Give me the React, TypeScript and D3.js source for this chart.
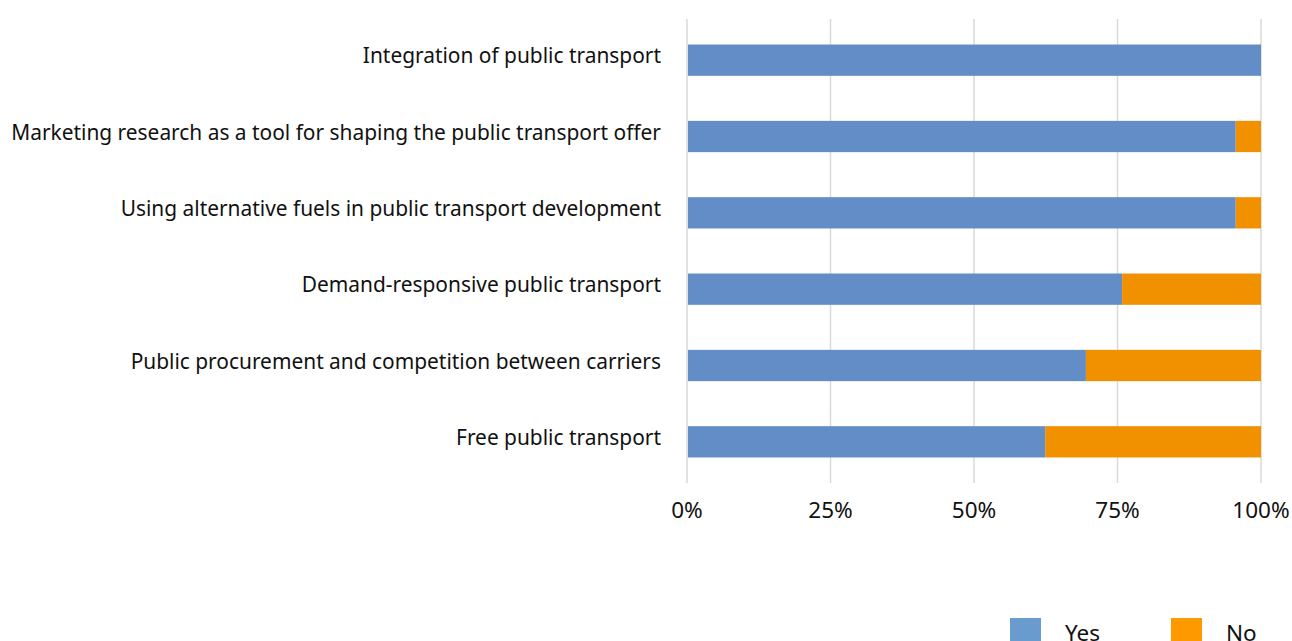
import React, { useEffect, useRef } from 'react';
import * as d3 from 'd3';

const WIDTH = 1292;
const HEIGHT = 641;
const BLUE = '#628DC6';
const ORANGE = '#F29100';
const GRID = '#D9D9D9';
const FONT = '"Noto Sans", "Open Sans", sans-serif';

const CATEGORIES = [
  'Integration of public transport',
  'Marketing research as a tool for shaping the public transport offer',
  'Using alternative fuels in public transport development',
  'Demand-responsive public transport',
  'Public procurement and competition between carriers',
  'Free public transport',
];
const YES = [1.0, 0.956, 0.956, 0.758, 0.695, 0.624];
const NO = YES.map(v => 1 - v);
const TICKS = [0, 0.25, 0.5, 0.75, 1];
const LEGEND = [
  { label: 'Yes', color: '#6A9BCF' },
  { label: 'No', color: '#FF9900' },
];

const App: React.FC = () => {
  const svgRef = useRef<SVGSVGElement>(null);

  useEffect(() => {
    const svg = d3.select(svgRef.current);
    svg.selectAll('*').remove();
    svg.attr('width', WIDTH).attr('height', HEIGHT).style('background', '#fff');

    const x = d3.scaleLinear().domain([0, 1]).range([687, 1261]);
    const y = d3.scaleBand<string>().domain(CATEGORIES).range([22, 480])
      .paddingInner(0.59).paddingOuter(0.295);

    // Gridlines
    svg.append('g')
      .selectAll('line')
      .data(TICKS)
      .join('line')
      .attr('x1', d => x(d)).attr('x2', d => x(d))
      .attr('y1', 19).attr('y2', 483)
      .attr('stroke', GRID).attr('stroke-width', 1.5);

    // Stacked bars
    const rows = CATEGORIES.map((c, i) => ({ c, yes: YES[i], no: NO[i] }));
    const bars = svg.append('g');
    bars.selectAll('rect.yes')
      .data(rows)
      .join('rect')
      .attr('class', 'yes')
      .attr('x', x(0) + 1)
      .attr('y', d => y(d.c)!)
      .attr('width', d => x(d.yes) - x(0) - 1)
      .attr('height', y.bandwidth())
      .attr('fill', BLUE);
    bars.selectAll('rect.no')
      .data(rows.filter(d => d.no > 0.001))
      .join('rect')
      .attr('class', 'no')
      .attr('x', d => x(d.yes))
      .attr('y', d => y(d.c)!)
      .attr('width', d => x(1) - x(d.yes))
      .attr('height', y.bandwidth())
      .attr('fill', ORANGE);

    // Category labels
    svg.append('g')
      .selectAll('text')
      .data(CATEGORIES)
      .join('text')
      .attr('x', 661)
      .attr('y', d => y(d)! + y.bandwidth() / 2 - 4)
      .attr('dy', '0.35em')
      .attr('text-anchor', 'end')
      .attr('font-family', FONT)
      .attr('font-size', 20.9)
      .attr('fill', '#111')
      .text(d => d);

    // X tick labels
    svg.append('g')
      .selectAll('text')
      .data(TICKS)
      .join('text')
      .attr('x', d => x(d))
      .attr('y', 510)
      .attr('dy', '0.35em')
      .attr('text-anchor', 'middle')
      .attr('font-family', FONT)
      .attr('font-size', 22.5)
      .attr('fill', '#111')
      .text(d => d3.format('.0%')(d));

    // Legend (cut by the bottom edge, as in the original)
    const lg = svg.append('g');
    const lx = [1010, 1171];
    LEGEND.forEach((l, i) => {
      lg.append('rect')
        .attr('x', lx[i]).attr('y', 618)
        .attr('width', 31).attr('height', 31)
        .attr('fill', l.color);
      lg.append('text')
        .attr('x', lx[i] + 55).attr('y', 641)
        .attr('font-family', FONT)
        .attr('font-size', 22.5)
        .attr('fill', '#111')
        .text(l.label);
    });
  }, []);

  return (
    <div style={{ position: 'fixed', left: 0, top: 0 }}>
      <svg ref={svgRef} style={{ display: 'block' }} />
    </div>
  );
};

export default App;
